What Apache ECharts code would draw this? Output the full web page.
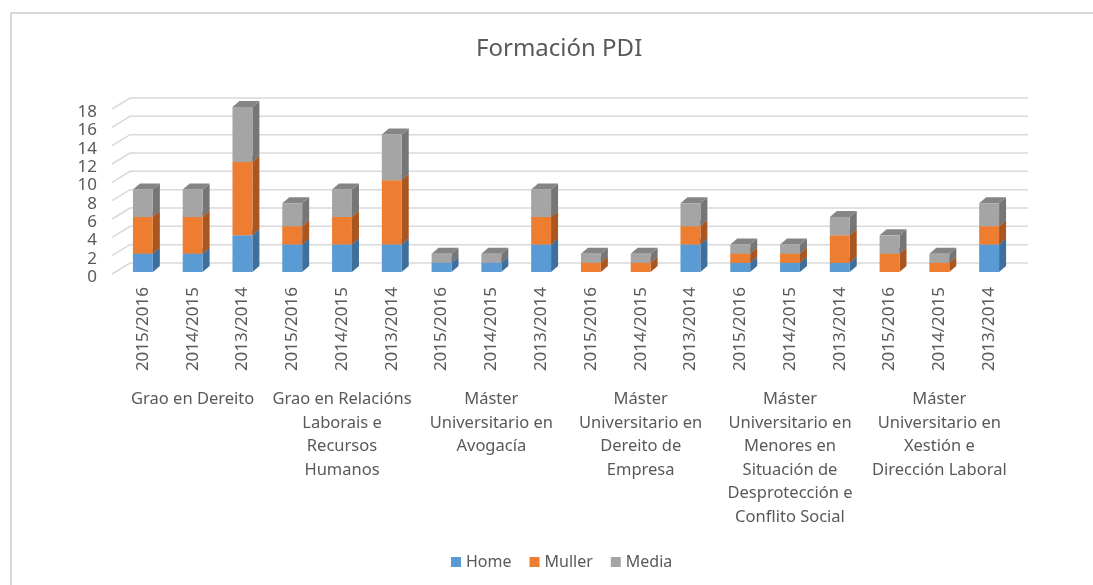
<!DOCTYPE html>
<html>
<head>
<meta charset="utf-8">
<script src="https://cdn.jsdelivr.net/npm/echarts@6/dist/echarts.min.js"></script>
<style>
html,body{margin:0;padding:0;background:#fff;}
#c{width:1093px;height:585px;}
</style>
</head>
<body>
<div id="c"></div>
<script>
const titleText = 'Formación PDI';
const years = ['2015/2016', '2014/2015', '2013/2014'];
const groups = [
  'Grao en Dereito',
  'Grao en Relacións\nLaborais e\nRecursos\nHumanos',
  'Máster\nUniversitario en\nAvogacía',
  'Máster\nUniversitario en\nDereito de\nEmpresa',
  'Máster\nUniversitario en\nMenores en\nSituación de\nDesprotección e\nConflito Social',
  'Máster\nUniversitario en\nXestión e\nDirección Laboral'
];
const seriesNames = ['Home', 'Muller', 'Media'];
const home   = [2, 2, 4,   3, 3, 3,   1, 1, 3,   0, 0, 3,   1, 1, 1,   0, 0, 3];
const muller = [4, 4, 8,   2, 3, 7,   0, 0, 3,   1, 1, 2,   1, 1, 3,   2, 1, 2];
const media  = [3, 3, 6, 2.5, 3, 5,   1, 1, 3,   1, 1, 2.5, 1, 1, 2,   2, 1, 2.5];
const yTicks = [0, 2, 4, 6, 8, 10, 12, 14, 16, 18];

const categories = [];
groups.forEach(() => years.forEach(y => categories.push(y)));

const colors = [
  {front: '#5B9BD5', side: '#3F6F9C', top: '#4C86BC'},
  {front: '#ED7D31', side: '#AA5620', top: '#C96826'},
  {front: '#A5A5A5', side: '#767676', top: '#858585'}
];
const valueSets = [home, muller, media];

const bases = [];
let acc = home.map(() => 0);
valueSets.forEach((vals, s) => {
  bases.push(acc.slice());
  acc = acc.map((a, i) => a + vals[i]);
});

const DX = 7, DY = -6;
function barRender(sIdx) {
  return function (params, api) {
    const idx = api.value(0);
    const base = api.value(1);
    const val = api.value(2);
    if (!val) return null;
    const pBot = api.coord([idx, base]);
    const pTop = api.coord([idx, base + val]);
    const band = api.size([1, 0])[0];
    const w = band * 0.4;
    const x0 = pBot[0] - w / 2;
    const x1 = x0 + w;
    const yb = pBot[1], yt = pTop[1];
    const c = colors[sIdx];
    return {
      type: 'group',
      children: [
        {type: 'polygon', shape: {points: [[x1, yt], [x1 + DX, yt + DY], [x1 + DX, yb + DY], [x1, yb]]}, style: {fill: c.side}},
        {type: 'polygon', shape: {points: [[x0, yt], [x0 + DX, yt + DY], [x1 + DX, yt + DY], [x1, yt]]}, style: {fill: c.top}},
        {type: 'rect', shape: {x: x0, y: yt, width: w, height: yb - yt}, style: {fill: c.front}}
      ]
    };
  };
}

const barSeries = seriesNames.map((name, s) => ({
  name: name,
  type: 'custom',
  xAxisIndex: 0,
  yAxisIndex: 0,
  clip: false,
  z: 3 + s,
  itemStyle: {color: colors[s].front},
  encode: {x: 0, y: [1, 2]},
  renderItem: barRender(s),
  data: valueSets[s].map((v, i) => [i, bases[s][i], v])
}));

const gridSeries = {
  name: 'grid',
  type: 'custom',
  silent: true,
  clip: false,
  z: 1,
  xAxisIndex: 0,
  yAxisIndex: 0,
  encode: {x: 0, y: 1},
  renderItem: function (params, api) {
    const cs = params.coordSys;
    const y = api.coord([0, api.value(1)])[1];
    return {
      type: 'polyline',
      shape: {points: [[cs.x - 6, y + 2], [cs.x + 12, y - 9], [cs.x + cs.width + 14, y - 9]]},
      style: {stroke: '#D9D9D9', lineWidth: 1.5, fill: null}
    };
  },
  data: yTicks.map(v => [0, v])
};

const chart = echarts.init(document.getElementById('c'));
const txt = '#595959';
const ff = '"Noto Sans", sans-serif';
chart.setOption({
  animation: false,
  backgroundColor: '#fff',
  textStyle: {fontFamily: ff},
  title: {
    text: titleText,
    left: 471,
    top: 32,
    textStyle: {fontSize: 24, fontWeight: 'normal', color: txt, fontFamily: ff}
  },
  legend: {
    data: seriesNames,
    left: 446,
    top: 549,
    icon: 'rect',
    itemWidth: 10,
    itemHeight: 10,
    itemGap: 18,
    textStyle: {fontSize: 16, color: txt, fontFamily: ff}
  },
  graphic: [
    {type: 'polyline', shape: {points: [[11, 585], [11, 13], [1093, 13]]}, style: {stroke: '#D9D9D9', lineWidth: 2, fill: null}, silent: true}
  ],
  grid: {left: 118, right: 79, top: 107, bottom: 313},
  xAxis: [
    {
      type: 'category',
      data: categories,
      position: 'bottom',
      axisLine: {show: false},
      axisTick: {show: false},
      axisLabel: {rotate: 90, interval: 0, margin: 15, fontSize: 17, color: txt, fontFamily: ff}
    },
    {
      type: 'category',
      data: groups,
      position: 'bottom',
      axisLine: {show: false},
      axisTick: {show: false},
      axisLabel: {interval: 0, margin: 116, fontSize: 16.5, lineHeight: 23.5, color: txt, fontFamily: ff, align: 'center'}
    }
  ],
  yAxis: {
    type: 'value',
    min: 0,
    max: 18,
    interval: 2,
    axisLine: {show: false},
    axisTick: {show: false},
    splitLine: {show: false},
    axisLabel: {
      margin: 21, color: txt, fontFamily: ff, fontSize: 17,
      formatter: '{v|{value}}',
      rich: {v: {fontSize: 17, color: txt, fontFamily: ff, padding: [10, 0, 0, 0]}}
    }
  },
  series: [gridSeries].concat(barSeries)
});
</script>
</body>
</html>
